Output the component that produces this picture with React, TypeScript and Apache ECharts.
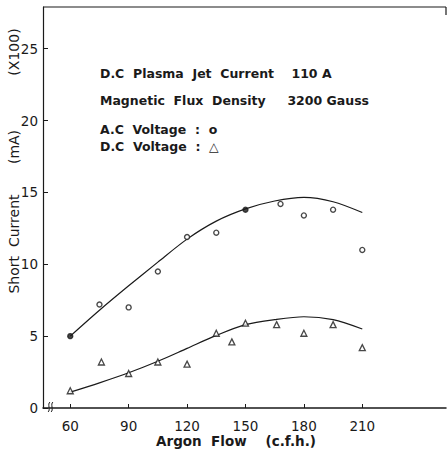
import React, { useEffect, useRef } from "react";
import * as echarts from "echarts";

const xTicks = [60, 90, 120, 150, 180, 210];
const acFlow = [60, 75, 90, 105, 120, 135, 150, 168, 180, 195, 210];
const acCurrent = [5.0, 7.2, 7.0, 9.5, 11.9, 12.2, 13.8, 14.2, 13.4, 13.8, 11.0];
const acFilled = [60, 150];
const dcFlow = [60, 76, 90, 105, 120, 135, 143, 150, 166, 180, 195, 210];
const dcCurrent = [1.2, 3.2, 2.4, 3.2, 3.05, 5.2, 4.6, 5.9, 5.8, 5.2, 5.8, 4.2];
const acFitFlow = [60, 75, 90, 105, 120, 135, 150, 165, 180, 195, 210];
const acFit = [5.0, 6.8, 8.5, 10.15, 11.75, 13.0, 13.85, 14.4, 14.65, 14.35, 13.6];
const dcFitFlow = [60, 75, 90, 105, 120, 135, 150, 165, 180, 195, 210];
const dcFit = [1.1, 1.75, 2.45, 3.25, 4.15, 5.05, 5.8, 6.15, 6.35, 6.15, 5.5];

const INK = "#1a1a1a";
const FONT = "DejaVu Sans";

export default function App() {
  const ref = useRef<HTMLDivElement>(null);
  useEffect(() => {
    if (!ref.current) return;
    const chart = echarts.init(ref.current, null, { renderer: "svg" });
    const txt = (x: number, y: number, s: string, size = 12.5, rot = 0, align = "left", weight = "bold") => ({
      type: "text",
      x,
      y,
      rotation: rot,
      style: { text: s, fill: INK, font: `${weight} ${size}px "${FONT}"`, align, verticalAlign: "middle" },
    });
    chart.setOption({
      animation: false,
      backgroundColor: "#fff",
      grid: { left: 43, top: 7, right: 2, bottom: 47, containLabel: false },
      xAxis: {
        type: "value",
        min: 46,
        max: 253,
        axisLine: { show: true, lineStyle: { color: INK, width: 1.5 } },
        axisTick: { show: true, inside: true, length: 4, customValues: xTicks, lineStyle: { color: INK } },
        axisLabel: { customValues: xTicks, color: INK, fontSize: 13.5, fontFamily: FONT, margin: 11 },
        splitLine: { show: false },
      },
      yAxis: {
        type: "value",
        min: 0,
        max: 27.9,
        interval: 5,
        axisLine: { show: true, lineStyle: { color: INK, width: 1.2 } },
        axisTick: { show: true, inside: true, length: 5, lineStyle: { color: INK } },
        axisLabel: { color: INK, fontSize: 13.5, fontFamily: FONT, margin: 5, showMaxLabel: false },
        splitLine: { show: false },
      },
      series: [
        {
          type: "line",
          data: acFitFlow.map((x, i) => [x, acFit[i]]),
          smooth: 0.3,
          showSymbol: false,
          lineStyle: { color: INK, width: 1.2 },
          silent: true,
        },
        {
          type: "line",
          data: dcFitFlow.map((x, i) => [x, dcFit[i]]),
          smooth: 0.3,
          showSymbol: false,
          lineStyle: { color: INK, width: 1.2 },
          silent: true,
        },
        {
          type: "scatter",
          symbol: "circle",
          symbolSize: 5,
          data: acFlow.map((x, i) => ({
            value: [x, acCurrent[i]],
            itemStyle: { color: acFilled.includes(x) ? INK : "#fff" },
          })),
          itemStyle: { borderColor: INK, borderWidth: 1.4 },
          z: 5,
        },
        {
          type: "scatter",
          symbol: "triangle",
          symbolSize: 6,
          data: dcFlow.map((x, i) => [x, dcCurrent[i]]),
          itemStyle: { color: "#fff", borderColor: INK, borderWidth: 1.3 },
          z: 5,
        },
      ],
      graphic: [
        { type: "line", shape: { x1: 43, y1: 7, x2: 446, y2: 7 }, style: { stroke: INK, lineWidth: 1.2 } },
        { type: "line", shape: { x1: 446, y1: 7, x2: 446, y2: 15 }, style: { stroke: INK, lineWidth: 1.2 } },
        { type: "rect", shape: { x: 45, y: 405, width: 8, height: 6 }, style: { fill: "#fff" } },
        { type: "bezierCurve", shape: { x1: 48, y1: 412, x2: 50, y2: 402, cpx1: 51, cpy1: 410, cpx2: 47, cpy2: 404 }, style: { stroke: INK, lineWidth: 1, fill: null } },
        { type: "bezierCurve", shape: { x1: 51, y1: 412, x2: 53, y2: 402, cpx1: 54, cpy1: 410, cpx2: 50, cpy2: 404 }, style: { stroke: INK, lineWidth: 1, fill: null } },
        txt(100, 73, "D.C  Plasma  Jet  Current    110 A"),
        txt(100, 100, "Magnetic  Flux  Density     3200 Gauss"),
        txt(100, 129, "A.C  Voltage  :  o"),
        txt(100, 146, "D.C  Voltage  :  \u25B3"),
        txt(14, 244, "Short  Current", 14, Math.PI / 2, "center", "normal"),
        txt(14, 147, "(mA)", 14, Math.PI / 2, "center", "normal"),
        txt(14, 52, "(X100)", 14, Math.PI / 2, "center", "normal"),
        txt(236, 441, "Argon  Flow    (c.f.h.)", 13.5, 0, "center", "bold"),
      ],
    });
    return () => chart.dispose();
  }, []);
  return <div ref={ref} style={{ width: 448, height: 455, position: "absolute", left: 0, top: 0 }} />;
}
